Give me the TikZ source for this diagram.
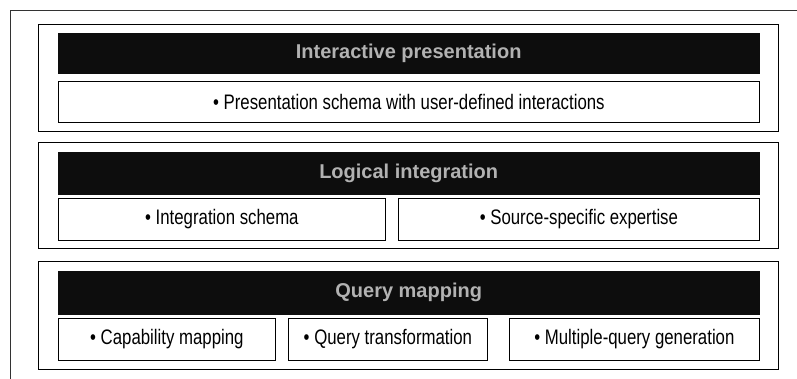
\documentclass[tikz,border=0pt]{standalone}
\usepackage{fontspec}
\setmainfont{Liberation Sans}[FakeStretch=0.8]
\newfontfamily\titlefont{Liberation Sans}
\begin{document}
\begin{tikzpicture}[x=1pt,y=-1pt,
  panel/.style={draw=black,line width=0.8pt,anchor=north west,inner sep=0pt},
  bar/.style={fill=black!95,draw=black!95,anchor=north west,inner sep=0pt,
    text=black!30,font=\titlefont\fontsize{20}{22}\selectfont\bfseries},
  item/.style={draw=black,fill=white,line width=0.8pt,anchor=north west,inner sep=0pt,
    font=\fontsize{21}{24}\selectfont}]
\useasboundingbox (0,0) rectangle (797,379);
\draw[line width=0.6pt,black!80] (797,10) -- (10,10) -- (10,379);
% panel 1
\node[panel,minimum width=740pt,minimum height=107pt] (p1) at (38,24) {};
\node[bar,minimum width=701pt,minimum height=40pt] (b1) at (58,33) {Interactive presentation};
\node[item,minimum width=701pt,minimum height=41pt] (i1) at (58,81) {• Presentation schema with user-defined interactions};
% panel 2
\node[panel,minimum width=740pt,minimum height=106pt] (p2) at (38,142) {};
\node[bar,minimum width=701pt,minimum height=42pt] (b2) at (58,152) {Logical integration};
\node[item,minimum width=327pt,minimum height=42pt] (i2a) at (58,198) {• Integration schema};
\node[item,minimum width=361pt,minimum height=42pt] (i2b) at (398,198) {• Source-specific expertise};
% panel 3
\node[panel,minimum width=740pt,minimum height=108pt] (p3) at (38,261) {};
\node[bar,minimum width=701pt,minimum height=43pt] (b3) at (58,271) {Query mapping};
\node[item,minimum width=217pt,minimum height=42pt] (i3a) at (58,318) {• Capability mapping};
\node[item,minimum width=199pt,minimum height=42pt] (i3b) at (288,318) {• Query transformation};
\node[item,minimum width=250pt,minimum height=42pt] (i3c) at (509,318) {• Multiple-query generation};
\end{tikzpicture}
\end{document}
